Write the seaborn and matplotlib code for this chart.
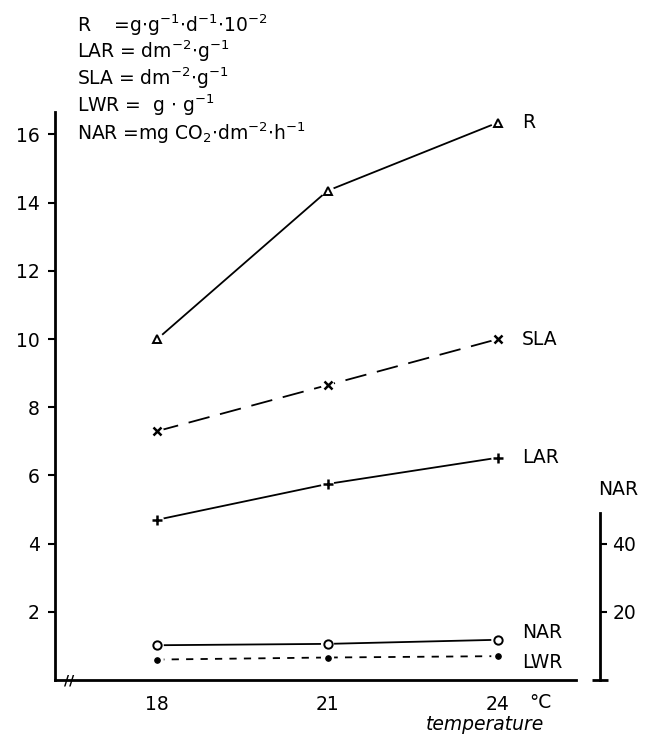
import matplotlib
matplotlib.use("Agg")
import matplotlib.pyplot as plt
import seaborn as sns
import pandas as pd

temperature = [18, 21, 24]
R = [10.0, 14.35, 16.35]
SLA = [7.3, 8.65, 10.0]
LAR = [4.7, 5.75, 6.52]
LWR = [0.6, 0.66, 0.7]
NAR = [10.2, 10.6, 11.8]
left_ticks = [2, 4, 6, 8, 10, 12, 14, 16]
right_ticks = [20, 40]
header = [
    r"R    =g$\cdot$g$^{-1}$$\cdot$d$^{-1}$$\cdot$10$^{-2}$",
    r"LAR = dm$^{-2}$$\cdot$g$^{-1}$",
    r"SLA = dm$^{-2}$$\cdot$g$^{-1}$",
    r"LWR =  g $\cdot$ g$^{-1}$",
    r"NAR =mg CO$_2$$\cdot$dm$^{-2}$$\cdot$h$^{-1}$",
]

sns.set_style("white")
plt.rcParams["font.family"] = ["DejaVu Sans"]
plt.rcParams["mathtext.default"] = "regular"
plt.rcParams["text.color"] = "black"
plt.rcParams["xtick.color"] = "black"
plt.rcParams["ytick.color"] = "black"
plt.rcParams["xtick.labelcolor"] = "black"
plt.rcParams["ytick.labelcolor"] = "black"

fig = plt.figure(figsize=(6.45, 7.41), dpi=100)
ax = fig.add_axes([0.0853, 0.0823, 0.845, 0.773])
ax.set_facecolor("white")

df = pd.DataFrame({"T": temperature, "R": R, "SLA": SLA, "LAR": LAR, "LWR": LWR, "NAR": NAR})

lw = 1.3
specs = [
    ("R", dict(marker="^", markersize=6, markerfacecolor="white", markeredgecolor="black", markeredgewidth=1.4), (None, None)),
    ("SLA", dict(marker="x", markersize=6, markeredgecolor="black", markeredgewidth=1.8), (12, 6)),
    ("LAR", dict(marker="+", markersize=7, markeredgecolor="black", markeredgewidth=1.8), (None, None)),
    ("LWR", dict(marker="o", markersize=4, markerfacecolor="black", markeredgecolor="black"), (4, 4)),
]
for name, mk, dash in specs:
    sns.scatterplot(data=df, x="T", y=name, ax=ax, color="white", s=90, marker="o",
                    edgecolor="none", zorder=3, legend=False)
    line = sns.lineplot(data=df, x="T", y=name, ax=ax, color="black", lw=lw, zorder=2,
                        legend=False).lines[-1]
    if dash[0] is not None:
        line.set_dashes(dash)
    sns.lineplot(data=df, x="T", y=name, ax=ax, color="black", lw=0, zorder=4,
                 legend=False, **mk)

ax.set_xlim(16.2, 25.8)
ax.set_ylim(0, 16.8)
ax.set_xticks(temperature)
ax.set_xticklabels([str(t) for t in temperature])
ax.set_yticks(left_ticks)
ax.set_yticklabels([str(t) for t in left_ticks])
ax.set_xlabel("")
ax.set_ylabel("")
ax.tick_params(axis="both", direction="out", length=5, width=1.5, labelsize=13.5,
               color="black", labelcolor="black", pad=6)
ax.tick_params(axis="x", pad=6)
for s in ["top", "right"]:
    ax.spines[s].set_visible(False)
for s in ["left", "bottom"]:
    ax.spines[s].set_linewidth(2.0)
    ax.spines[s].set_color("black")
ax.spines["left"].set_bounds(0, 16.65)
ax.spines["bottom"].set_bounds(16.2, 25.37)

# right NAR axis
ax2 = ax.twinx()
ax2.set_ylim(0, 168)
sns.scatterplot(data=df, x="T", y="NAR", ax=ax2, color="white", s=90, marker="o",
                edgecolor="none", zorder=3, legend=False)
sns.lineplot(data=df, x="T", y="NAR", ax=ax2, color="black", lw=lw, zorder=2, legend=False)
sns.lineplot(data=df, x="T", y="NAR", ax=ax2, color="black", lw=0, zorder=4, legend=False,
             marker="o", markersize=6, markerfacecolor="white", markeredgecolor="black",
             markeredgewidth=1.4)
ax2.set_xlim(16.2, 25.8)
ax2.set_ylabel("")
ax2.set_yticks(right_ticks)
ax2.set_yticklabels([str(t) for t in right_ticks])
ax2.set_yticks([0], minor=True)
ax2.tick_params(axis="y", which="major", direction="out", length=5, width=1.5,
                labelsize=13.5, pad=4, color="black", labelcolor="black")
ax2.tick_params(axis="y", which="minor", direction="inout", length=12, width=2.0, color="black")
for s in ["top", "left", "bottom"]:
    ax2.spines[s].set_visible(False)
ax2.spines["right"].set_linewidth(2.0)
ax2.spines["right"].set_color("black")
ax2.spines["right"].set_bounds(0, 49)
ax2.text(1.033, 0.332, "NAR", transform=ax.transAxes, ha="center", va="center", fontsize=13.5)

# series labels
lab_x = 24.42
ax.text(lab_x, R[-1], "R", ha="left", va="center", fontsize=13.5)
ax.text(lab_x, SLA[-1], "SLA", ha="left", va="center", fontsize=13.5)
ax.text(lab_x, LAR[-1], "LAR", ha="left", va="center", fontsize=13.5)
ax.text(lab_x, 1.38, "NAR", ha="left", va="center", fontsize=13.5)
ax.text(lab_x, 0.5, "LWR", ha="left", va="center", fontsize=13.5)

# axis break mark
ax.text(16.45, 0.0, "//", ha="center", va="center", fontsize=10, fontweight="bold",
        clip_on=False, zorder=6)

# x labels
fig.text(540 / 645, 1 - 702 / 741, "°C", ha="center", va="center", fontsize=13.5)
fig.text(485 / 645, 1 - 725 / 741, "temperature", ha="center", va="center", fontsize=13.5,
         style="italic")

# header
ys = [25, 51, 78, 105, 133]
for txt, y in zip(header, ys):
    fig.text(77 / 645, 1 - y / 741, txt, ha="left", va="center", fontsize=13.5)

fig.savefig("out.png", dpi=100, facecolor="white")
